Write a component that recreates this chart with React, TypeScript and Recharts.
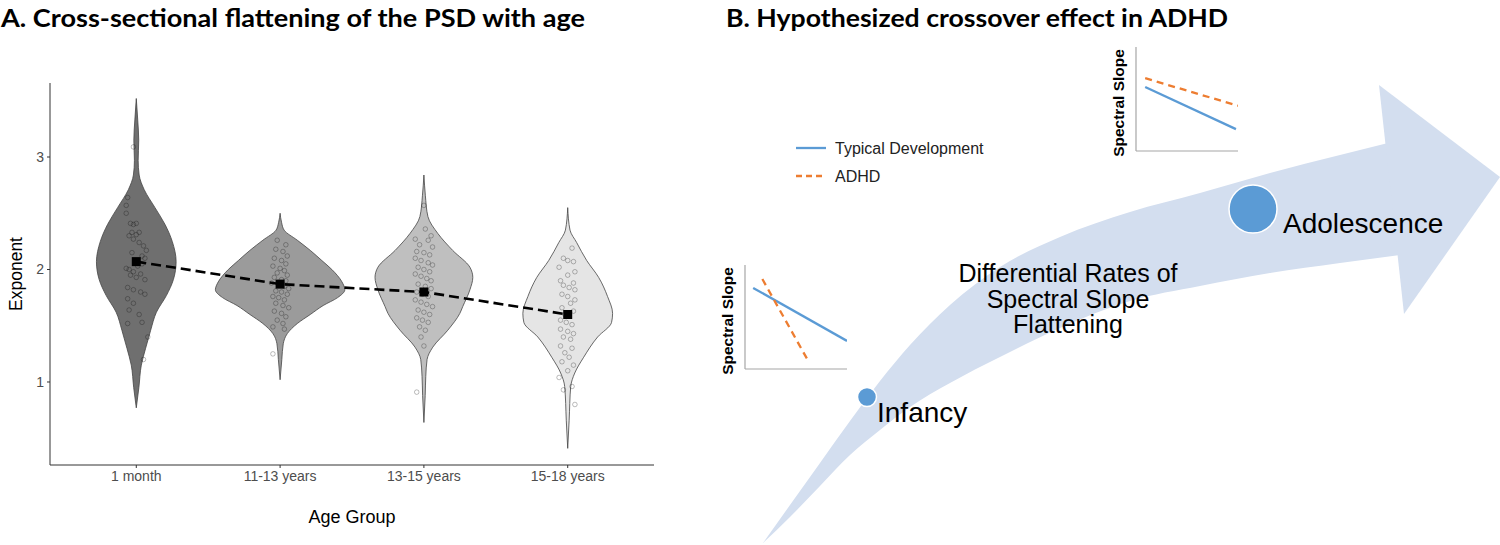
import React from 'react';
import { ComposedChart, Area, Scatter, XAxis, YAxis, LineChart, Line } from 'recharts';

const FONT = '"Liberation Sans", Arial, Helvetica, sans-serif';
const TITLE_FONT = 'Lato, "Open Sans", sans-serif';

// ---------------- Panel A data ----------------
const ageGroups = ['1 month', '11-13 years', '13-15 years', '15-18 years'];
const exponentTicks = [1, 2, 3];
const groupMeans = [2.07, 1.87, 1.8, 1.6];
const violinFills = ['#6f6f6f', '#9b9b9b', '#bfbfbf', '#e5e5e5'];

// violin density profiles: [exponent, half-width (in group units)]
const density1Month = [
  [3.52, 0], [3.33, 0.01], [3.15, 0.017], [2.97, 0.013], [2.84, 0.02], [2.71, 0.055],
  [2.55, 0.13], [2.4, 0.2], [2.25, 0.25], [2.07, 0.277], [1.91, 0.258], [1.77, 0.21],
  [1.62, 0.14], [1.46, 0.1], [1.3, 0.065], [1.15, 0.035], [0.95, 0.018], [0.77, 0],
];
const density11to13 = [
  [2.5, 0], [2.42, 0.01], [2.35, 0.028], [2.26, 0.12], [2.17, 0.21], [2.08, 0.29],
  [2.0, 0.36], [1.89, 0.43], [1.82, 0.45], [1.75, 0.4], [1.68, 0.3], [1.6, 0.21],
  [1.52, 0.12], [1.43, 0.05], [1.34, 0.022], [1.2, 0.012], [1.02, 0],
];
const density13to15 = [
  [2.84, 0], [2.66, 0.01], [2.47, 0.028], [2.32, 0.097], [2.17, 0.2], [2.02, 0.32],
  [1.93, 0.34], [1.82, 0.32], [1.67, 0.27], [1.61, 0.25], [1.46, 0.166], [1.31, 0.062],
  [1.2, 0.022], [1.05, 0.013], [0.88, 0.009], [0.64, 0],
];
const density15to18 = [
  [2.55, 0], [2.35, 0.016], [2.24, 0.062], [2.08, 0.132], [1.93, 0.215], [1.76, 0.277],
  [1.61, 0.312], [1.53, 0.305], [1.4, 0.208], [1.22, 0.111], [1.08, 0.049], [0.96, 0.021],
  [0.66, 0.01], [0.41, 0],
];

// individual observations: [jitter offset, exponent]
const points1Month = [
  [-0.02, 3.09], [-0.06, 2.64], [-0.07, 2.57], [-0.07, 2.5], [-0.04, 2.41], [-0.02, 2.4], [0.0, 2.41],
  [-0.03, 2.33], [0.0, 2.31], [0.02, 2.33], [-0.05, 2.3], [-0.02, 2.27], [0.02, 2.24], [0.05, 2.21],
  [0.07, 2.17], [-0.03, 2.15], [0.04, 2.12], [0.06, 2.1], [-0.07, 2.01], [-0.05, 2.0], [-0.02, 1.98],
  [0.01, 2.03], [0.04, 2.05], [-0.04, 1.95], [0.0, 1.93], [0.03, 1.96], [0.06, 1.91], [-0.06, 1.84],
  [-0.02, 1.82], [0.03, 1.8], [0.06, 1.78], [-0.06, 1.74], [-0.02, 1.7], [-0.05, 1.64], [0.02, 1.6],
  [-0.06, 1.52], [0.04, 1.53], [0.08, 1.4], [0.05, 1.2],
];
const points11to13 = [
  [-0.02, 2.26], [0.04, 2.22], [-0.03, 2.18], [0.02, 2.16], [0.05, 2.12], [-0.04, 2.1], [0.01, 2.08],
  [0.04, 2.05], [-0.05, 2.03], [0.0, 2.01], [0.03, 1.99], [-0.02, 1.97], [0.05, 1.95], [-0.04, 1.93],
  [0.01, 1.91], [0.04, 1.9], [-0.06, 1.88], [-0.01, 1.86], [0.03, 1.85], [0.06, 1.83], [-0.03, 1.81],
  [0.01, 1.8], [0.05, 1.78], [-0.05, 1.76], [-0.01, 1.75], [0.03, 1.73], [-0.03, 1.7], [0.02, 1.68],
  [0.06, 1.66], [-0.04, 1.63], [0.01, 1.61], [0.04, 1.58], [-0.02, 1.55], [0.02, 1.52], [-0.05, 1.49],
  [0.03, 1.47], [-0.05, 1.25],
];
const points13to15 = [
  [0.0, 2.57], [0.01, 2.36], [0.05, 2.3], [-0.06, 2.27], [0.03, 2.26], [-0.03, 2.22], [0.06, 2.2],
  [-0.05, 2.16], [0.0, 2.15], [0.04, 2.13], [-0.06, 2.1], [-0.02, 2.08], [0.03, 2.06], [0.06, 2.04],
  [-0.04, 2.02], [0.0, 2.0], [0.04, 1.98], [-0.06, 1.96], [-0.02, 1.94], [0.02, 1.92], [0.05, 1.9],
  [-0.04, 1.87], [0.01, 1.85], [0.05, 1.83], [-0.05, 1.8], [-0.01, 1.78], [0.03, 1.76], [-0.06, 1.73],
  [-0.02, 1.71], [0.02, 1.69], [0.06, 1.67], [-0.04, 1.64], [0.0, 1.62], [0.04, 1.6], [-0.05, 1.57],
  [-0.01, 1.55], [0.03, 1.53], [-0.03, 1.49], [0.01, 1.46], [-0.02, 1.4], [0.0, 1.32], [-0.05, 0.91],
];
const points15to18 = [
  [0.03, 2.19], [-0.03, 2.1], [0.0, 2.08], [0.04, 2.07], [-0.06, 2.02], [0.05, 1.98], [0.0, 1.95],
  [-0.05, 1.9], [0.04, 1.88], [-0.03, 1.86], [0.01, 1.84], [0.05, 1.82], [-0.04, 1.78], [0.0, 1.76],
  [0.05, 1.73], [0.02, 1.7], [-0.04, 1.66], [0.04, 1.63], [-0.02, 1.6], [-0.05, 1.55], [-0.01, 1.53],
  [0.03, 1.51], [-0.05, 1.47], [0.0, 1.45], [0.04, 1.43], [-0.03, 1.4], [0.02, 1.38], [-0.05, 1.32],
  [0.03, 1.3], [-0.02, 1.26], [0.01, 1.22], [-0.04, 1.18], [0.04, 1.15], [0.0, 1.1], [-0.06, 1.04],
  [0.03, 0.96], [-0.03, 0.93], [0.05, 0.8],
];

const densities = [density1Month, density11to13, density13to15, density15to18];
const pointSets = [points1Month, points11to13, points13to15, points15to18];

const violinData = densities.map((prof, i) =>
  prof.map(([v, w]) => ({ y: v, span: [i + 1 - w, i + 1 + w] }))
);
const jitterData = pointSets.map((pts, i) => pts.map(([dx, v]) => ({ x: i + 1 + dx, y: v })));
const meanData = groupMeans.map((m, i) => ({ x: i + 1, y: m }));

// ---------------- Panel B data (diagram units) ----------------
const arrowX = [763, 790, 820, 850, 880, 910, 950, 1000, 1060, 1130, 1200, 1270, 1340, 1400];
const arrowTop = [543, 505, 463, 421, 381, 345, 305, 267, 237, 212, 193, 173, 155, 140];
const arrowBottom = [543, 517, 486, 455, 430, 407, 383, 357, 328, 301, 286, 273, 263, 255];
const headX = [1379, 1404, 1500];
const headTop = [85, 104, 177];
const headBottom = [85, 314, 177];

const arrowBody = arrowX.map((x, i) => ({ x, edge: [arrowTop[i], arrowBottom[i]] }));
const arrowHead = headX.map((x, i) => ({ x, edge: [headTop[i], headBottom[i]] }));

const stages = [
  { x: 867, y: 397 },
  { x: 1253, y: 209 },
];
const stageRadius = [9.5, 24];
const stageLabels = [
  { x: 877, y: 422, text: 'Infancy' },
  { x: 1283, y: 233, text: 'Adolescence' },
];
const midLabel = [{ x: 1068, y: 282, lines: ['Differential Rates of', 'Spectral Slope', 'Flattening'] }];

// inset spectral-slope sketches (normalised 0..1)
const infancyTD = [{ x: 0.08, y: 0.78 }, { x: 1.0, y: 0.27 }];
const infancyADHD = [{ x: 0.17, y: 0.865 }, { x: 0.63, y: 0.06 }];
const adolTD = [{ x: 0.09, y: 0.615 }, { x: 0.98, y: 0.21 }];
const adolADHD = [{ x: 0.09, y: 0.7 }, { x: 1.0, y: 0.435 }];

const TD_COLOR = '#5b9bd5';
const ADHD_COLOR = '#ed7d31';

const JitterDot = (p: any) => (
  <circle cx={p.cx} cy={p.cy} r={2.3} fill="none" stroke="rgba(0,0,0,0.33)" strokeWidth={0.8} />
);
const MeanSquare = (p: any) => <rect x={p.cx - 4.5} y={p.cy - 4.5} width={9} height={9} fill="#000" />;

const axisStroke = { stroke: '#333', strokeWidth: 1 };

function Inset({ left, top, td, adhd }: any) {
  return (
    <div style={{ position: 'absolute', left, top }}>
      <LineChart width={122} height={124} margin={{ top: 10, right: 10, bottom: 9, left: 9 }}>
        <XAxis type="number" dataKey="x" domain={[0, 1]} allowDataOverflow tick={false} tickLine={false}
          height={1} axisLine={{ stroke: '#a6a6a6', strokeWidth: 1.2 }} />
        <YAxis type="number" dataKey="y" domain={[0, 1]} allowDataOverflow tick={false} tickLine={false}
          width={1} axisLine={{ stroke: '#a6a6a6', strokeWidth: 1.2 }} />
        <Line data={td} dataKey="y" stroke={TD_COLOR} strokeWidth={2.3} dot={false} isAnimationActive={false} />
        <Line data={adhd} dataKey="y" stroke={ADHD_COLOR} strokeWidth={2.3} strokeDasharray="7 5" dot={false}
          isAnimationActive={false} />
      </LineChart>
    </div>
  );
}

export default function App() {
  return (
    <div style={{ position: 'absolute', left: 0, top: 0, width: 1500, height: 545, background: '#fff', overflow: 'hidden' }}>
      {/* Panel A */}
      <div style={{ position: 'absolute', left: 0, top: 0 }}>
        <ComposedChart layout="vertical" width={700} height={545} margin={{ top: 83, right: 46, bottom: 40, left: 10 }}>
          <XAxis type="number" dataKey="x" domain={[0.4, 4.6]} ticks={[1, 2, 3, 4]} interval={0} allowDataOverflow
            tickFormatter={(v: number) => ageGroups[v - 1]} height={40} tickSize={3} tickMargin={3}
            axisLine={axisStroke} tickLine={axisStroke}
            tick={{ fill: '#4d4d4d', fontSize: 14, fontFamily: FONT }} />
          <YAxis type="number" dataKey="y" domain={[0.262, 3.658]} ticks={exponentTicks} interval={0} allowDataOverflow
            reversed width={40} tickSize={3} tickMargin={3} axisLine={axisStroke} tickLine={axisStroke}
            tick={{ fill: '#4d4d4d', fontSize: 14, fontFamily: FONT }} />
          {violinData.map((d, i) => (
            <Area key={'v' + i} data={d} dataKey="span" type="monotone" fill={violinFills[i]} fillOpacity={1}
              stroke="#444" strokeWidth={0.8} dot={false} activeDot={false} isAnimationActive={false} />
          ))}
          {jitterData.map((d, i) => (
            <Scatter key={'j' + i} data={d} shape={JitterDot} isAnimationActive={false} />
          ))}
          <Scatter data={meanData} shape={MeanSquare} line={{ stroke: '#000', strokeWidth: 2.6, strokeDasharray: '10 5' }}
            lineType="joint" isAnimationActive={false} />
        </ComposedChart>
      </div>

      {/* Panel B diagram */}
      <div style={{ position: 'absolute', left: 700, top: 0 }}>
        <ComposedChart width={800} height={545} margin={{ top: 0, right: 0, bottom: 0, left: 0 }}>
          <XAxis hide type="number" dataKey="x" domain={[700, 1500]} allowDataOverflow />
          <YAxis hide type="number" dataKey="y" domain={[0, 545]} reversed allowDataOverflow />
          <Area data={arrowBody} dataKey="edge" type="monotone" fill="#d3deef" fillOpacity={1} stroke="none"
            dot={false} activeDot={false} isAnimationActive={false} />
          <Area data={arrowHead} dataKey="edge" type="linear" fill="#d3deef" fillOpacity={1} stroke="none"
            dot={false} activeDot={false} isAnimationActive={false} />
          <Scatter data={stages} isAnimationActive={false}
            shape={(p: any) => (
              <circle cx={p.cx} cy={p.cy} r={stageRadius[p.index] ?? stageRadius[stages.indexOf(p.payload)]}
                fill="#5b9bd5" stroke="#fff" strokeWidth={1.5} />
            )} />
          <Scatter data={stageLabels} isAnimationActive={false}
            shape={(p: any) => (
              <text x={p.cx} y={p.cy} fontFamily={FONT} fontSize={28} fill="#000">{p.payload.text}</text>
            )} />
          <Scatter data={midLabel} isAnimationActive={false}
            shape={(p: any) => (
              <text x={p.cx} y={p.cy} fontFamily={FONT} fontSize={25} fill="#000" textAnchor="middle">
                {p.payload.lines.map((l: string, k: number) => (
                  <tspan key={k} x={p.cx} dy={k === 0 ? 0 : 25.5}>{l}</tspan>
                ))}
              </text>
            )} />
        </ComposedChart>
      </div>

      <Inset left={735} top={255} td={infancyTD} adhd={infancyADHD} />
      <Inset left={1126} top={37} td={adolTD} adhd={adolADHD} />

      {/* text overlay */}
      <svg width={1500} height={545} style={{ position: 'absolute', left: 0, top: 0, pointerEvents: 'none' }}>
        <text x={1} y={27} fontFamily={TITLE_FONT} fontWeight={700} fontSize={25} textLength={584}
          lengthAdjust="spacingAndGlyphs">A. Cross-sectional flattening of the PSD with age</text>
        <text x={726} y={27} fontFamily={TITLE_FONT} fontWeight={700} fontSize={25} textLength={502}
          lengthAdjust="spacingAndGlyphs">B. Hypothesized crossover effect in ADHD</text>
        <text x={22} y={274} fontFamily={FONT} fontSize={17.5} textAnchor="middle" transform="rotate(-90 22 274)">Exponent</text>
        <text x={352} y={523} fontFamily={FONT} fontSize={18} textAnchor="middle">Age Group</text>
        <text x={733} y={321} fontFamily={FONT} fontSize={15.5} fontWeight={700} textAnchor="middle"
          transform="rotate(-90 733 321)">Spectral Slope</text>
        <text x={1124} y={103} fontFamily={FONT} fontSize={15.5} fontWeight={700} textAnchor="middle"
          transform="rotate(-90 1124 103)">Spectral Slope</text>
        {/* legend */}
        <line x1={796} y1={148} x2={826} y2={148} stroke={TD_COLOR} strokeWidth={2.3} />
        <text x={835} y={154} fontFamily={FONT} fontSize={16} fill="#222">Typical Development</text>
        <line x1={796} y1={176} x2={826} y2={176} stroke={ADHD_COLOR} strokeWidth={2.3} strokeDasharray="6 4" />
        <text x={835} y={182} fontFamily={FONT} fontSize={16} fill="#222">ADHD</text>
      </svg>
    </div>
  );
}
